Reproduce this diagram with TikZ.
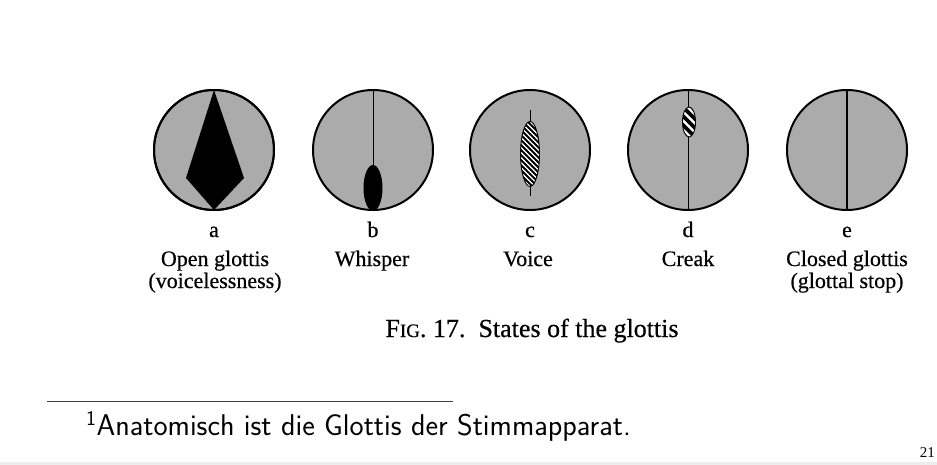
\documentclass[tikz,border=0pt]{standalone}
\usepackage{fontspec}
\setmainfont{Liberation Serif}[BoldFont={Liberation Serif}, BoldFeatures={FakeBold=0.5}]
\usetikzlibrary{shapes.geometric}

\definecolor{stipple}{gray}{0.67}
\tikzset{
  glottis/.style={circle, draw, line width=2, fill=stipple, minimum size=120, inner sep=0, outer sep=0},
  gap/.style={ellipse, fill=black, inner sep=0, outer sep=0},
  hatch/.style={ellipse, draw, line width=0.9, fill=white, inner sep=0, outer sep=0,
    path picture={\foreach \k in {-12,...,12}
      \draw[line width=#1/2.4] ([shift={(-40,\k*#1-40)}]path picture bounding box.center) -- ++(80,80);}},
  letter/.style={anchor=base, font=\bfseries\fontsize{22}{20}\selectfont},
  lab/.style={anchor=base, font=\bfseries\fontsize{22}{20}\selectfont}
}

\begin{document}
\begin{tikzpicture}[x=1pt, y=-1pt]
\useasboundingbox (0,0) rectangle (937,465);

\node[glottis] at (214,150) (a) {};
\node[glottis] at (373,150) (b) {};
\node[glottis] at (530,150) (c) {};
\node[glottis] at (688,150) (d) {};
\node[glottis] at (847,150) (e) {};

% open glottis
\fill (a.north) -- (186,178) -- (a.south) -- (244,178) -- cycle;
\draw[line width=2] (a) circle[radius=60];

% whisper
\node[gap, minimum width=19, minimum height=46] at (373,188) (bgap) {};
\draw[line width=1] (b.north) -- (bgap.north);

% voice
\draw[line width=0.8] (530,110) -- (530,196);
\node[hatch=5, minimum width=19, minimum height=65] at (530,154) (cgap) {};

% creak
\draw[line width=1] (d.north) -- (d.south);
\node[hatch=9, minimum width=13, minimum height=30] at (689,122) (dgap) {};

% closed glottis
\draw[line width=2.6] (e.north) -- (e.south);

\node[letter] at (214,237) (la) {a};
\node[letter] at (373,237) (lb) {b};
\node[letter] at (530,237) (lc) {c};
\node[letter] at (688,237) (ld) {d};
\node[letter] at (847,237) (le) {e};

\node[lab] at (215,266) (na) {Open glottis};
\node[lab] at (215,288) (na2) {(voicelessness)};
\node[lab] at (372,266) (nb) {Whisper};
\node[lab] at (528,266) (nc) {Voice};
\node[lab] at (688,266) (nd) {Creak};
\node[lab] at (847,266) (ne) {Closed glottis};
\node[lab] at (847,288) (ne2) {(glottal stop)};

\node[anchor=base, font=\bfseries\fontsize{26}{28}\selectfont] at (532,337) (caption)
  {F{\fontsize{19}{20}\selectfont IG}. 17.\ \ States of the glottis};

% footnote
\draw[line width=0.8, black!75] (47,401) -- (453,401);
\node[anchor=base west, inner sep=0, font=\sffamily\fontsize{30}{32}\selectfont] at (86,435) (fn)
  {\textsuperscript{1}Anatomisch ist die Glottis der Stimmapparat.};
\node[anchor=base east, inner sep=0, font=\fontsize{15}{15}\selectfont] at (935,457) (page) {21};
\fill[black!7] (0,462) rectangle (937,465);

\end{tikzpicture}
\end{document}
